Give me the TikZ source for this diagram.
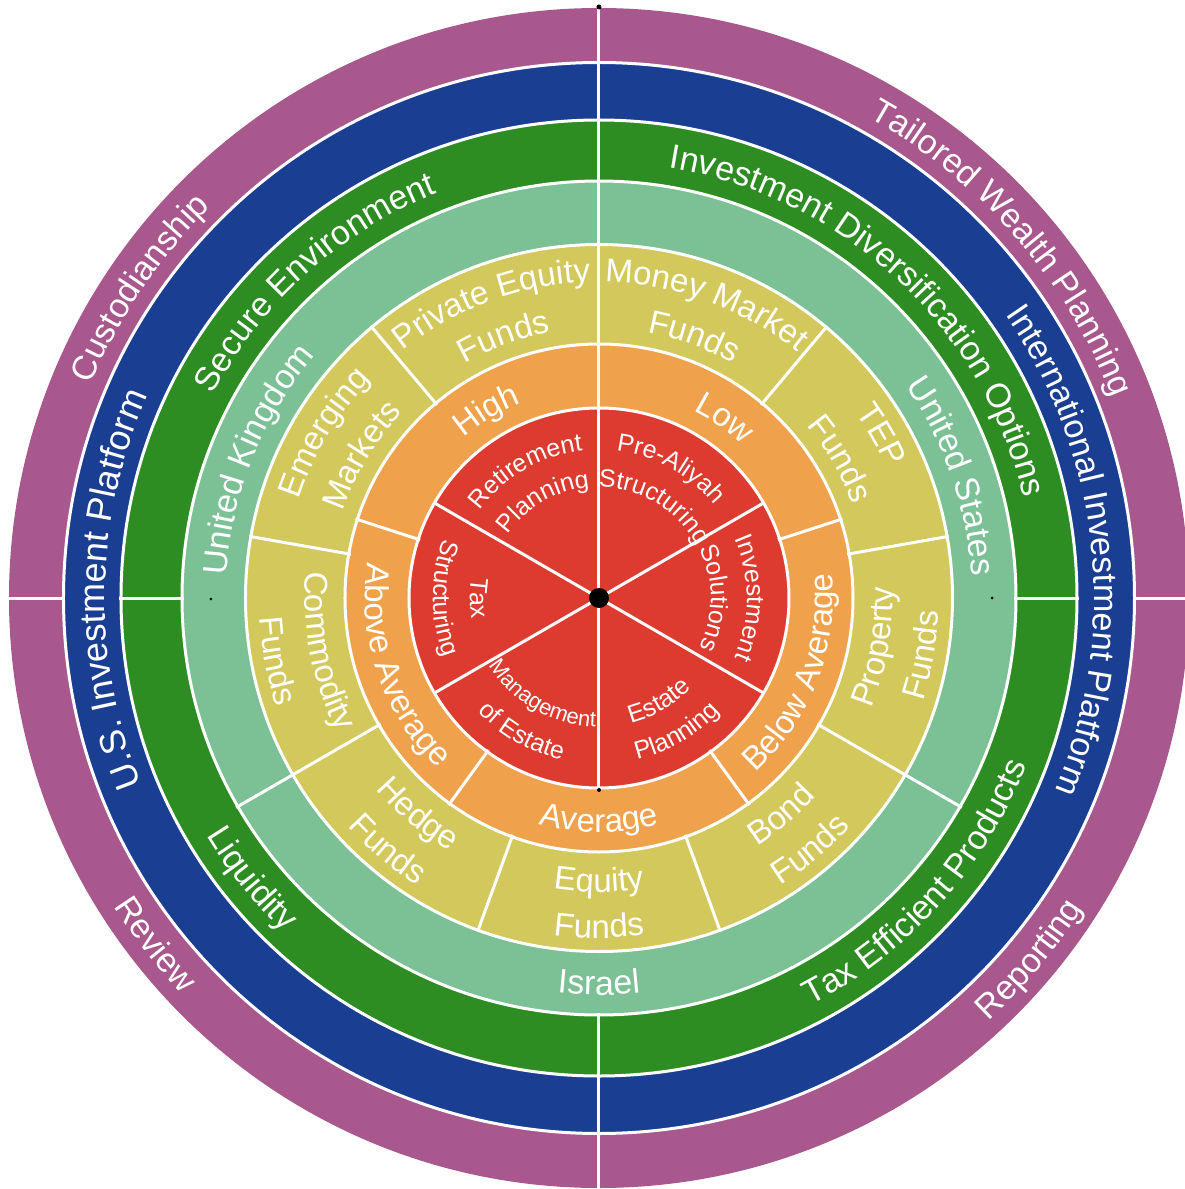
\documentclass[tikz,border=0pt]{standalone}
\usepackage{fontspec}
\setmainfont{Liberation Sans}
\usetikzlibrary{decorations.text}
\definecolor{cPurple}{RGB}{168,88,140}
\definecolor{cBlue}{RGB}{26,62,146}
\definecolor{cGreen}{RGB}{46,141,34}
\definecolor{cLight}{RGB}{124,192,150}
\definecolor{cYellow}{RGB}{211,200,92}
\definecolor{cOrange}{RGB}{240,161,76}
\definecolor{cRed}{RGB}{221,59,47}
% #1 centre angle, #2 baseline radius, #3 font size, #4 text
\newcommand\TopLbl[4]{\path[decorate,decoration={text along path,text align=center,
  text={|\fontsize{#3}{#3}\selectfont\color{white}|#4}}]
  ({#1+90}:#2) arc[start angle={#1+90},end angle={#1-90},radius=#2];}
\newcommand\BotLbl[4]{\path[decorate,decoration={text along path,text align=center,
  text={|\fontsize{#3}{#3}\selectfont\color{white}|#4}}]
  ({#1-90}:#2) arc[start angle={#1-90},end angle={#1+90},radius=#2];}
\tikzset{
  ringline/.style={draw=white,line width=3pt},
  divider/.style={draw=white,line width=3pt,line cap=butt},
  speck/.style={fill=black}
}
\begin{document}
\begin{tikzpicture}[x=1pt,y=1pt]
\useasboundingbox (-599,-591) rectangle (586,598);
\fill[white] (-599,-591) rectangle (586,598);
\coordinate (c) at (0,0);
% rings
\fill[cPurple] (c) circle (590);
\fill[cBlue]   (c) circle (535.5);
\fill[cGreen]  (c) circle (478);
\fill[cLight]  (c) circle (417);
\fill[cYellow] (c) circle (353.5);
\fill[cOrange] (c) circle (254);
\fill[cRed]    (c) circle (190);
\foreach \r in {535.5,478,417,353.5,254,190} \draw[ringline] (c) circle (\r);
% dividers
\foreach \a in {0,90,180,270} \draw[divider] (\a:534) -- (\a:593);
\foreach \a in {90,270} \draw[divider] (\a:476) -- (\a:537);
\foreach \a in {0,90,180,270} \draw[divider] (\a:415) -- (\a:480);
\foreach \a in {90,210,330} \draw[divider] (\a:352) -- (\a:419);
\foreach \a in {90,50,10,-30,-70,-110,-150,170,130} \draw[divider] (\a:252) -- (\a:355);
\foreach \a in {90,18,-54,-126,162} \draw[divider] (\a:188) -- (\a:256);
\foreach \a in {90,30,-30,-90,-150,150} \draw[divider] (c) -- (\a:191);
% purple ring
\TopLbl{146}{551}{34}{Custodianship}
\TopLbl{41}{551}{34}{Tailored Wealth Planning}
\BotLbl{-40}{575}{34}{Reporting}
\BotLbl{218}{575}{34}{Review}
% blue ring
\TopLbl{179}{494}{36}{U.S. Investment Platform}
\TopLbl{6}{495}{34}{International Investment Platform}
% green ring
\TopLbl{132}{436}{34}{Secure Environment}
\TopLbl{47}{436}{34}{Investment Diversification Options}
\BotLbl{-42}{459}{34}{Tax Efficient Products}
\BotLbl{219}{459}{34}{Liquidity}
% light green ring
\TopLbl{158}{373}{34}{United Kingdom}
\TopLbl{19}{373}{34}{United States}
\BotLbl{270}{397}{34}{Israel}
% yellow ring
\TopLbl{110}{316}{33}{Private Equity}\TopLbl{110}{270}{33}{Funds}
\TopLbl{70}{316}{33}{Money Market}\TopLbl{70}{270}{33}{Funds}
\TopLbl{30}{316}{33}{TEP}\TopLbl{30}{270}{33}{Funds}
\BotLbl{-10}{294}{33}{Property}\BotLbl{-10}{340}{33}{Funds}
\BotLbl{-50}{294}{33}{Bond}\BotLbl{-50}{340}{33}{Funds}
\BotLbl{-90}{294}{33}{Equity}\BotLbl{-90}{340}{33}{Funds}
\BotLbl{-130}{294}{33}{Hedge}\BotLbl{-130}{340}{33}{Funds}
\BotLbl{191}{294}{33}{Commodity}\BotLbl{191}{340}{33}{Funds}
\TopLbl{149}{316}{33}{Emerging}\TopLbl{149}{270}{33}{Markets}
% orange ring
\TopLbl{121}{210}{33}{High}
\TopLbl{55}{210}{33}{Low}
\BotLbl{-21}{234}{33}{Below Average}
\BotLbl{-90}{234}{33}{Average}
\BotLbl{199}{234}{33}{Above Average}
% red centre
\TopLbl{120}{148}{25}{Retirement}\TopLbl{120}{111}{25}{Planning}
\TopLbl{61}{148}{25}{Pre-Aliyah}\TopLbl{59}{111}{25}{Structuring}
\TopLbl{0}{148}{25}{Investment}\TopLbl{0}{112}{25}{Solutions}
\BotLbl{-60}{129}{25}{Estate}\BotLbl{-60}{166}{25}{Planning}
\BotLbl{-120}{129}{22}{Management}\BotLbl{-120}{166}{25}{of Estate}
\BotLbl{180}{129}{25}{Tax}\BotLbl{180}{166}{25}{Structuring}
% centre dot and specks
\fill[black] (c) circle (10);
\fill[speck] (0,591) circle (2.5);
\fill[speck] (0,-192) circle (2);
\fill[speck] (-388,-1) circle (1.5);
\fill[speck] (393,0) circle (1.5);
\end{tikzpicture}
\end{document}
